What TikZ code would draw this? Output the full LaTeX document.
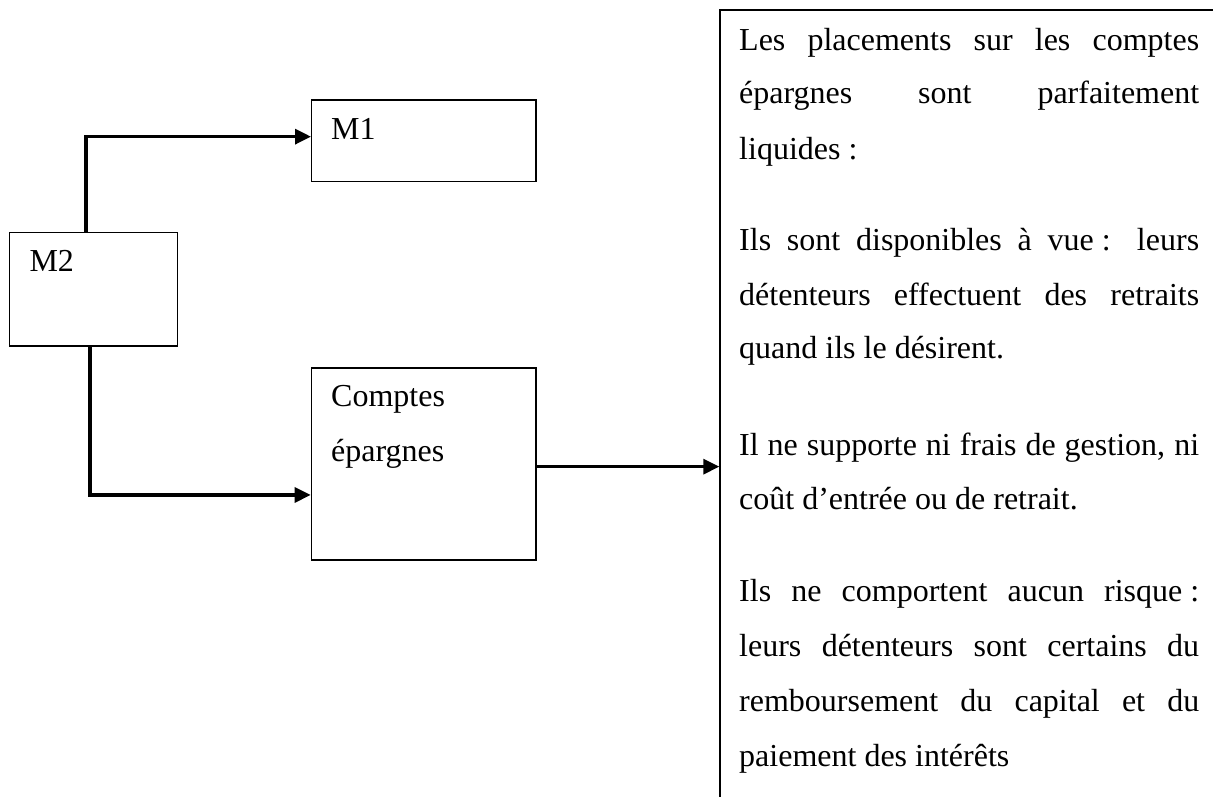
\documentclass[tikz,border=0pt]{standalone}
\usepackage{fontspec}
\setmainfont{Liberation Serif}
\usetikzlibrary{arrows.meta}
\begin{document}
\begin{tikzpicture}[x=1pt,y=-1pt,
  box/.style={draw=black, line width=1.3pt, anchor=north west, inner sep=0pt},
  conn/.style={line width=3.2pt, -{Triangle[length=16pt,width=15pt]}},
  txt/.style={anchor=base west, inner sep=0pt, font=\fontsize{32pt}{38pt}\selectfont}]
\useasboundingbox (0,0) rectangle (1213,796);
\clip (0,0) rectangle (1213,796);
% boxes
\node[box, minimum width=224.3pt, minimum height=81.4pt] (m1) at (311,99.3) {};
\node[box, minimum width=168pt, minimum height=113.6pt] (m2) at (9,231.7) {};
\node[box, minimum width=224.6pt, minimum height=192pt] (cs) at (310.7,367.3) {};
\node[box, minimum width=600pt, minimum height=900pt] (info) at (719.3,9.3) {};
% box labels
\node[txt] (lm1) at (331,139.3) {M1};
\node[txt] (lm2) at (29.3,271.7) {M2};
\node[txt] (lcs1) at (331,406.7) {Comptes};
\node[txt] (lcs2) at (331,461.7) {épargnes};
% connectors
\draw[conn] ([xshift=77pt]m2.north west) |- ([yshift=4pt]m1.west);
\draw[conn] ([xshift=81pt]m2.south west) |- ([yshift=-31pt]cs.west);
\draw[conn] ([yshift=-2.7pt]cs.east) -- ([yshift=-2.7pt]cs.east -| info.west);
% text of the right box
\node[txt] (p1) at (739,50) {\makebox[460pt][s]{Les placements sur les comptes}};
\node[txt] (p2) at (739,103.3) {\makebox[460pt][s]{épargnes sont parfaitement}};
\node[txt] (p3) at (739,159.3) {liquides :};
\node[txt] (p4) at (739,250.7) {\makebox[460pt][s]{Ils sont disponibles à vue\kern8pt: leurs}};
\node[txt] (p5) at (739,305) {\makebox[460pt][s]{détenteurs effectuent des retraits}};
\node[txt] (p6) at (739,358.3) {quand ils le désirent.};
\node[txt] (p7) at (739,455.3) {\makebox[460pt][s]{Il ne supporte ni frais de gestion, ni}};
\node[txt] (p8) at (739,509.3) {coût d’entrée ou de retrait.};
\node[txt] (p9) at (739,601) {\makebox[460pt][s]{Ils ne comportent aucun risque\kern8pt:}};
\node[txt] (p10) at (739,656) {\makebox[460pt][s]{leurs détenteurs sont certains du}};
\node[txt] (p11) at (739,711) {\makebox[460pt][s]{remboursement du capital et du}};
\node[txt] (p12) at (739,766) {paiement des intérêts};
\end{tikzpicture}
\end{document}
